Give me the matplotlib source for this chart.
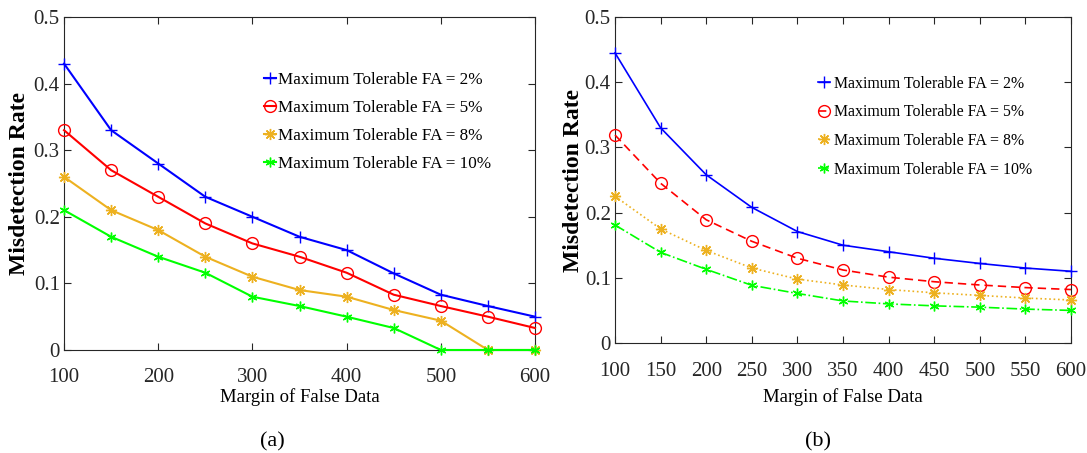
import matplotlib.pyplot as plt

plt.rcParams['font.family'] = ['Liberation Serif', 'DejaVu Serif']

margins = [100, 150, 200, 250, 300, 350, 400, 450, 500, 550, 600]
labels = ['Maximum Tolerable FA = 2%', 'Maximum Tolerable FA = 5%',
          'Maximum Tolerable FA = 8%', 'Maximum Tolerable FA = 10%']

# panel (a)
md_a_2 = [0.43, 0.33, 0.28, 0.23, 0.20, 0.17, 0.15, 0.115, 0.083, 0.066, 0.05]
md_a_5 = [0.33, 0.27, 0.23, 0.19, 0.16, 0.14, 0.116, 0.083, 0.066, 0.05, 0.033]
md_a_8 = [0.26, 0.21, 0.18, 0.14, 0.11, 0.09, 0.08, 0.06, 0.044, 0.0, 0.0]
md_a_10 = [0.21, 0.17, 0.14, 0.116, 0.08, 0.066, 0.05, 0.033, 0.0, 0.0, 0.0]

# panel (b)
md_b_2 = [0.445, 0.33, 0.258, 0.208, 0.171, 0.150, 0.140, 0.130, 0.122, 0.115, 0.110]
md_b_5 = [0.319, 0.245, 0.189, 0.156, 0.130, 0.112, 0.101, 0.094, 0.089, 0.085, 0.082]
md_b_8 = [0.225, 0.175, 0.142, 0.115, 0.098, 0.089, 0.082, 0.077, 0.073, 0.069, 0.066]
md_b_10 = [0.181, 0.139, 0.113, 0.0885, 0.076, 0.0645, 0.060, 0.057, 0.055, 0.052, 0.050]

colors = ['#0000ff', '#ff0000', '#edb120', '#00ff00']
markers = ['+', 'o', (8, 2, 0), (6, 2, 0)]
msizes = [8, 8.5, 8, 7]

fig = plt.figure(figsize=(10.87, 4.53), dpi=100)
ax_a = fig.add_axes([0.0589, 0.2274, 0.4333, 0.7351])
ax_b = fig.add_axes([0.5658, 0.2428, 0.4195, 0.7196])


def style_axes(ax, xticks, xpad, xlab_y, ylab_x):
    ax.set_xlim(100, 600)
    ax.set_ylim(0, 0.5)
    ax.set_xticks(xticks)
    ax.set_yticks([0, 0.1, 0.2, 0.3, 0.4, 0.5])
    ax.set_yticklabels(['0', '0.1', '0.2', '0.3', '0.4', '0.5'])
    ax.tick_params(direction='in', top=True, right=True, length=5,
                   width=0.8, labelsize=15, colors='#262626')
    ax.tick_params(axis='x', pad=xpad)
    ax.tick_params(axis='y', pad=3)
    for s in ax.spines.values():
        s.set_color('#262626')
        s.set_linewidth(0.8)
    ax.set_xlabel('Margin of False Data', fontsize=13.5, va='center')
    ax.xaxis.set_label_coords(0.5, xlab_y)
    ax.set_ylabel('Misdetection Rate', fontsize=17, fontweight='bold',
                  va='center')
    ax.yaxis.set_label_coords(ylab_x, 0.5)


series_a = [md_a_2, md_a_5, md_a_8, md_a_10]
for vals, c, m, ms, lab in zip(series_a, colors, markers, msizes, labels):
    ax_a.plot(margins, vals, color=c, marker=m, markersize=ms,
              markerfacecolor='none', markeredgewidth=1.0, linewidth=1.5,
              label=lab, clip_on=False, zorder=3)
style_axes(ax_a, [100, 200, 300, 400, 500, 600], 13, -0.141, -0.0955)
ax_a.legend(loc='upper left', bbox_to_anchor=(0.4246, 0.835), frameon=False,
            fontsize=12.3, handlelength=0.7, handletextpad=0.1,
            labelspacing=0.7, borderaxespad=0, borderpad=0)

series_b = [md_b_2, md_b_5, md_b_8, md_b_10]
line_styles = ['-', (0, (5, 3)), ':', '-.']
for vals, c, m, ms, ls, lab in zip(series_b, colors, markers, msizes,
                                   line_styles, labels):
    ax_b.plot(margins, vals, color=c, marker=m, linestyle=ls, markersize=ms,
              markerfacecolor='none', markeredgewidth=1.0, linewidth=1.2,
              label=lab, clip_on=False, zorder=3)
style_axes(ax_b, margins, 14, -0.166, -0.092)
ax_b.legend(loc='upper left', bbox_to_anchor=(0.445, 0.8206), frameon=False,
            fontsize=11.4, handlelength=0.76, handletextpad=0.25,
            labelspacing=0.8, borderaxespad=0, borderpad=0)

fig.text(272 / 1087, 1 - 442 / 453, '(a)', fontsize=16, ha='center', va='center')
fig.text(818 / 1087, 1 - 442 / 453, '(b)', fontsize=16, ha='center', va='center')

fig.savefig('out.png', dpi=100)
